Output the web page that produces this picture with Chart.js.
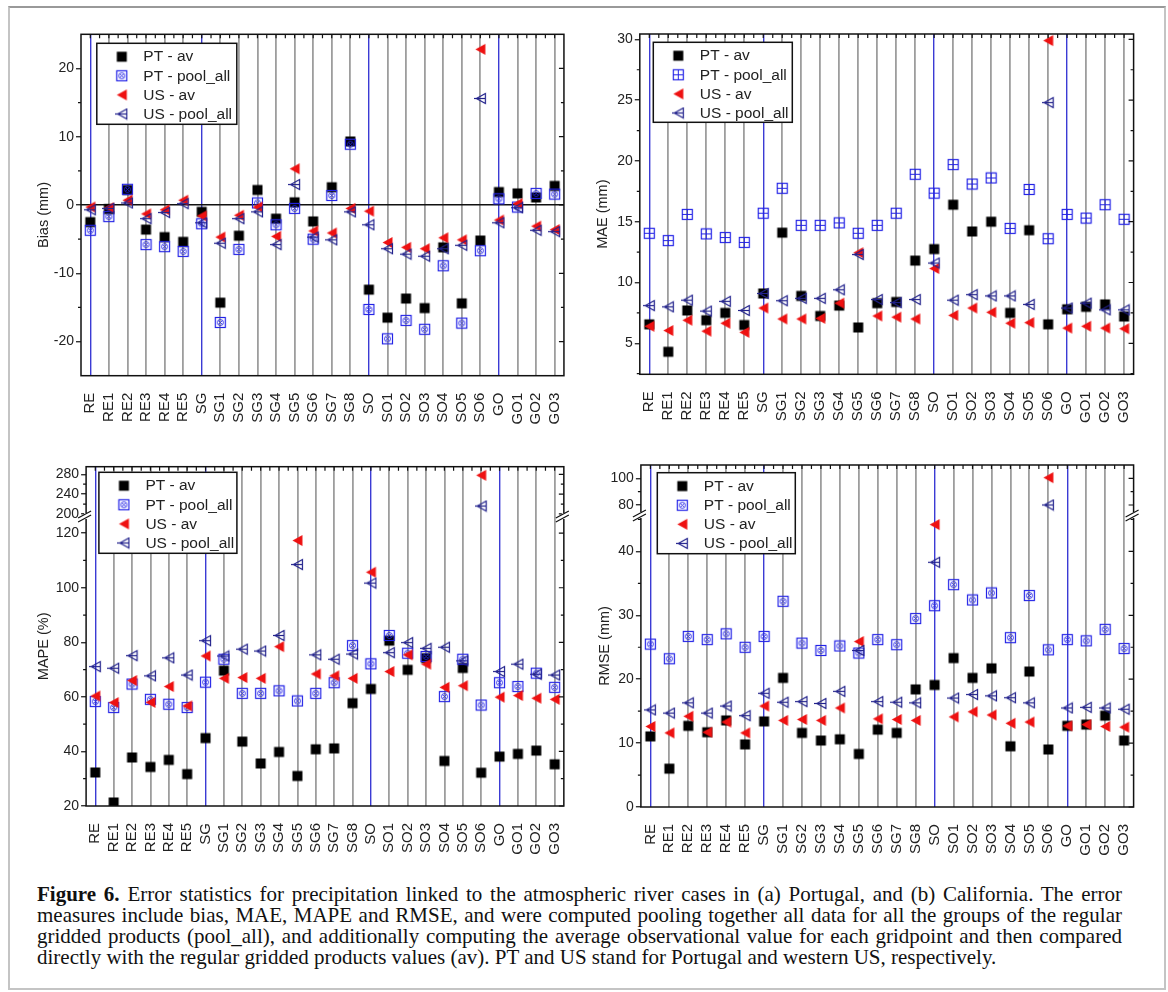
<!DOCTYPE html>
<html>
<head>
<meta charset="utf-8">
<title>Figure 6</title>
<script src="https://cdn.jsdelivr.net/npm/chart.js@4.4.1/dist/chart.umd.min.js"></script>
<style>
  html, body { margin: 0; padding: 0; background: #fff; }
  #fig { position: relative; width: 1168px; height: 992px; overflow: hidden; }
  .border { position: absolute; left: 8px; top: 6px; width: 1154px; height: 980px;
            border: 2px solid #c4c4c4; border-top-color: #999; }
  canvas { position: absolute; }
  #caption { position: absolute; left: 37px; top: 884px; width: 1085px;
             font-family: "Liberation Serif", "Times New Roman", serif; font-size: 21px;
             line-height: 21.1px; color: #111; }
  #caption div { text-align: justify; text-align-last: justify; white-space: nowrap; }
  #caption div.last { text-align-last: left; }
</style>
</head>
<body>
<div id="fig">
  <div class="border"></div>
  <canvas id="c-bias" width="580" height="430" style="left:10px;top:20px"></canvas>
  <canvas id="c-mae" width="570" height="430" style="left:590px;top:20px"></canvas>
  <canvas id="c-mape" width="580" height="420" style="left:10px;top:450px"></canvas>
  <canvas id="c-rmse" width="570" height="420" style="left:590px;top:450px"></canvas>
  <div id="caption">
    <div><b>Figure 6.</b> Error statistics for precipitation linked to the atmospheric river cases in (a) Portugal, and (b) California. The error</div>
    <div>measures include bias, MAE, MAPE and RMSE, and were computed pooling together all data for all the groups of the regular</div>
    <div>gridded products (pool_all), and additionally computing the average observational value for each gridpoint and then compared</div>
    <div class="last">directly with the regular gridded products values (av). PT and US stand for Portugal and western US, respectively.</div>
  </div>
</div>
<script>
/* ---------- dados ---------- */
const groups = ["RE", "RE1", "RE2", "RE3", "RE4", "RE5", "SG", "SG1", "SG2", "SG3", "SG4", "SG5", "SG6",
  "SG7", "SG8", "SO", "SO1", "SO2", "SO3", "SO4", "SO5", "SO6", "GO", "GO1", "GO2", "GO3"];
const groupHeads = ["RE", "SG", "SO", "GO"];
const seriesNames = ["PT - av", "PT - pool_all", "US - av", "US - pool_all"];

const biasTicks = [-20, -10, 0, 10, 20];
const biasPtAv = [-2.5, -0.6, 2.2, -3.6, -4.7, -5.4, -1.0, -14.3, -4.5, 2.2, -2.0, 0.4, -2.4, 2.6, 9.3, -12.4, -16.5, -13.7, -15.1, -6.2, -14.4, -5.2, 1.9, 1.7, 1.1, 2.8];
const biasPtPool = [-3.7, -1.7, 2.3, -5.8, -6.1, -6.8, -2.75, -17.2, -6.5, 0.3, -2.9, -0.5, -5.0, 1.4, 8.9, -15.3, -19.6, -16.9, -18.2, -8.9, -17.3, -6.7, 0.9, -0.3, 1.7, 1.6];
const biasUsAv = [-0.3, -0.4, 0.7, -1.3, -0.7, 0.7, -1.6, -4.7, -1.5, -0.3, -4.6, 5.3, -3.8, -4.1, -0.5, -0.9, -5.5, -6.2, -6.4, -4.8, -5.1, 22.8, -2.2, 0.2, -3.1, -3.6];
const biasUsPool = [-0.7, -0.5, 0.3, -2.0, -1.1, 0.2, -2.6, -5.6, -2.0, -1.0, -5.8, 3.0, -4.7, -5.1, -1.0, -2.9, -6.4, -7.2, -7.5, -6.4, -5.9, 15.6, -2.6, -0.4, -3.7, -3.9];

const maeTicks = [5, 10, 15, 20, 25, 30];
const maePtAv = [6.56, 4.3, 7.7, 6.9, 7.5, 6.5, 9.1, 14.1, 8.9, 7.25, 8.1, 6.3, 8.3, 8.4, 11.8, 12.75, 16.4, 14.2, 15.0, 7.5, 14.3, 6.56, 7.8, 8.0, 8.2, 7.2];
const maePtPool = [14.05, 13.45, 15.6, 14.0, 13.7, 13.3, 15.7, 17.75, 14.7, 14.7, 14.9, 14.05, 14.7, 15.7, 18.9, 17.35, 19.7, 18.1, 18.6, 14.45, 17.65, 13.6, 15.6, 15.3, 16.4, 15.2];
const maeUsAv = [6.4, 6.05, 6.9, 6.0, 6.65, 5.9, 7.9, 7.0, 7.0, 7.05, 8.3, 12.45, 7.25, 7.15, 7.0, 11.15, 7.3, 7.9, 7.55, 6.65, 6.7, 29.9, 6.25, 6.4, 6.25, 6.2];
const maeUsPool = [8.1, 8.0, 8.55, 7.65, 8.45, 7.7, 9.1, 8.5, 8.7, 8.7, 9.4, 12.3, 8.6, 8.35, 8.6, 11.6, 8.55, 9.0, 8.9, 8.9, 8.2, 24.8, 7.9, 8.3, 7.75, 7.75];

const mapeTicksLow = [20, 40, 60, 80, 100, 120];
const mapeTicksHigh = [200, 240, 280];
const mapePtAv = [32.3, 21.3, 37.8, 34.3, 36.9, 31.7, 44.9, 69.6, 43.6, 35.6, 39.8, 31.0, 40.8, 41.1, 57.7, 62.9, 80.6, 69.9, 74.2, 36.5, 70.6, 32.2, 38.1, 39.1, 40.3, 35.3];
const mapePtPool = [58.3, 56.1, 64.7, 59.1, 57.3, 56.1, 65.4, 73.8, 61.3, 61.3, 62.2, 58.5, 61.3, 65.2, 78.8, 72.1, 82.5, 76.0, 74.8, 60.1, 73.8, 57.0, 65.2, 63.8, 68.7, 63.5];
const mapeUsAv = [60.3, 57.9, 66.0, 58.0, 63.8, 56.7, 75.0, 66.8, 67.1, 66.8, 78.4, 117.3, 68.4, 67.7, 66.8, 105.7, 69.3, 75.4, 72.0, 63.5, 64.1, 278, 59.9, 60.5, 59.5, 59.1];
const mapeUsPool = [71.1, 70.5, 75.1, 67.7, 74.3, 68.0, 80.6, 75.0, 77.5, 76.8, 82.5, 108.5, 75.4, 73.8, 75.7, 101.7, 76.2, 79.9, 77.8, 78.2, 73.2, 216, 69.3, 72.0, 68.3, 68.0];

const rmseTicksLow = [0, 10, 20, 30, 40];
const rmseTicksHigh = [80, 100];
const rmsePtAv = [11.05, 6.0, 12.7, 11.7, 13.55, 9.8, 13.4, 20.2, 11.6, 10.4, 10.6, 8.3, 12.1, 11.6, 18.4, 19.1, 23.3, 20.2, 21.7, 9.5, 21.2, 9.0, 12.7, 12.9, 14.3, 10.4];
const rmsePtPool = [25.5, 23.2, 26.7, 26.2, 27.1, 25.0, 26.7, 32.2, 25.65, 24.5, 25.2, 24.1, 26.2, 25.4, 29.5, 31.5, 34.8, 32.4, 33.5, 26.5, 33.1, 24.6, 26.2, 26.0, 27.8, 24.8];
const rmseUsAv = [12.6, 11.6, 14.2, 11.7, 13.3, 11.6, 15.8, 13.55, 13.7, 13.55, 15.5, 25.9, 13.8, 13.7, 13.55, 44.2, 14.1, 14.9, 14.4, 13.1, 13.3, 100.5, 12.7, 12.9, 12.6, 12.5];
const rmseUsPool = [15.2, 14.7, 16.3, 14.7, 15.8, 14.3, 17.8, 16.4, 16.5, 16.2, 18.1, 24.5, 16.5, 16.4, 16.3, 38.3, 17.05, 17.6, 17.4, 17.1, 16.3, 80, 15.5, 15.6, 15.5, 15.3];

/* ---------- estilo ---------- */
const FONT = '"Liberation Sans", Arial, sans-serif';
const TEXT = "#222";

/** Desenha os marcadores (estilo Origin) num canvas pequeno, usado como pointStyle. */
function makeMarker(kind, color) {
  const c = document.createElement("canvas");
  c.width = 13;
  c.height = 13;
  const g = c.getContext("2d");
  g.fillStyle = color;
  g.strokeStyle = color;
  g.lineWidth = 1.2;
  if (kind === "square") {
    g.fillRect(1.5, 1.5, 10, 10);
  } else if (kind === "squareCircleX") {
    g.strokeRect(1.5, 1.5, 10, 10);
    g.lineWidth = 0.9;
    g.beginPath();
    g.arc(6.5, 6.5, 3, 0, Math.PI * 2);
    g.stroke();
    g.beginPath();
    g.moveTo(4.7, 4.7); g.lineTo(8.3, 8.3);
    g.moveTo(8.3, 4.7); g.lineTo(4.7, 8.3);
    g.stroke();
  } else if (kind === "squarePlus") {
    g.strokeRect(1.5, 1.5, 10, 10);
    g.lineWidth = 1;
    g.beginPath();
    g.moveTo(6.5, 1.5); g.lineTo(6.5, 11.5);
    g.moveTo(1.5, 6.5); g.lineTo(11.5, 6.5);
    g.stroke();
  } else if (kind === "triangle") {
    g.beginPath();
    g.moveTo(1.5, 6.5); g.lineTo(11.5, 1); g.lineTo(11.5, 12);
    g.closePath();
    g.fill();
  } else if (kind === "triangleOpen") {
    g.beginPath();
    g.moveTo(2.5, 6.5); g.lineTo(11.5, 1.5); g.lineTo(11.5, 11.5);
    g.closePath();
    g.stroke();
    g.beginPath();
    g.moveTo(0, 6.5); g.lineTo(11.5, 6.5);
    g.stroke();
  }
  return c;
}

const mkPtAv = makeMarker("square", "#000");
const mkPtPoolX = makeMarker("squareCircleX", "#2323e6");
const mkPtPoolPlus = makeMarker("squarePlus", "#2323e6");
const mkUsAv = makeMarker("triangle", "#ee1111");
const mkUsPool = makeMarker("triangleOpen", "#22228c");

/** Moldura, ticks espelhados/menores, quebra de eixo, título do eixo y e legenda interna. */
const panelDecor = {
  id: "panelDecor",
  afterDatasetsDraw(chart, args, o) {
    const { ctx, chartArea: a } = chart;
    ctx.save();
    ctx.strokeStyle = "#111";
    ctx.lineWidth = 1.5;
    ctx.strokeRect(a.left, a.top, a.right - a.left, a.bottom - a.top);

    ctx.lineWidth = 1.2;
    ctx.beginPath();
    Object.values(chart.scales).filter((s) => s.axis === "y").forEach((s) => {
      const vals = s.ticks.map((t) => t.value);
      const step = vals[1] - vals[0];
      vals.forEach((v) => {
        const y = s.getPixelForValue(v);
        ctx.moveTo(a.right, y); ctx.lineTo(a.right - 5, y);
      });
      for (let v = vals[0] - step / 2; v < s.max - 0.01; v += step) {
        if (v <= s.min) continue;
        const y = s.getPixelForValue(v);
        ctx.moveTo(a.left, y); ctx.lineTo(a.left - 3, y);
        ctx.moveTo(a.right, y); ctx.lineTo(a.right - 3, y);
      }
    });
    const x = chart.scales.x;
    const half = (x.getPixelForTick(1) - x.getPixelForTick(0)) / 2;
    for (let i = 0; i < groups.length; i++) {
      const px = x.getPixelForTick(i);
      ctx.moveTo(px, a.top); ctx.lineTo(px, a.top + 4);
      if (i < groups.length - 1) {
        ctx.moveTo(px + half, a.top); ctx.lineTo(px + half, a.top + 4);
      }
    }
    ctx.stroke();

    if (chart.scales.yHigh) {
      const yb = chart.scales.yHigh.bottom;
      [a.left, a.right].forEach((sx) => {
        ctx.fillStyle = "#fff";
        ctx.fillRect(sx - 2, yb - 3, 4, 6);
        ctx.beginPath();
        ctx.moveTo(sx - 8, yb + 2); ctx.lineTo(sx + 5, yb - 5);
        ctx.moveTo(sx - 8, yb + 6); ctx.lineTo(sx + 5, yb - 1);
        ctx.lineWidth = 1.2;
        ctx.strokeStyle = "#111";
        ctx.stroke();
      });
    }
    ctx.restore();
  },
  afterDraw(chart, args, o) {
    const { ctx, chartArea: a } = chart;
    ctx.save();
    ctx.fillStyle = TEXT;
    ctx.font = `14.5px ${FONT}`;
    ctx.textAlign = "center";
    ctx.textBaseline = "middle";
    ctx.translate(o.titleX, (a.top + a.bottom) / 2 + 10);
    ctx.rotate(-Math.PI / 2);
    ctx.fillText(o.title, 0, 0);
    ctx.restore();

    const L = o.legend;
    const lx = a.left + L.x;
    const ly = a.top + L.y;
    ctx.save();
    ctx.fillStyle = "#fff";
    ctx.fillRect(lx, ly, L.w, L.h);
    ctx.strokeStyle = "#111";
    ctx.lineWidth = 1.5;
    ctx.strokeRect(lx, ly, L.w, L.h);
    ctx.font = `15.5px ${FONT}`;
    ctx.textAlign = "left";
    ctx.textBaseline = "middle";
    chart.data.datasets.filter((d) => d.inLegend !== false).forEach((d, i) => {
      const cy = ly + 13.4 + i * 19.1;
      ctx.drawImage(d.pointStyle, lx + 25 - 6.5, cy - 6.5);
      ctx.fillStyle = TEXT;
      ctx.fillText(d.label, lx + 46.5, cy + 0.5);
    });
    ctx.restore();
  }
};

function yAxis(min, max, ticks, width, extra) {
  return Object.assign({
    type: "linear",
    position: "left",
    min: min,
    max: max,
    afterBuildTicks: (s) => { s.ticks = ticks.map((v) => ({ value: v })); },
    afterFit: (s) => { s.width = width; },
    border: { display: false },
    grid: {
      color: (c) => (extra && extra.zeroLine && c.tick && c.tick.value === 0 ? "#111" : "rgba(0,0,0,0)"),
      lineWidth: 1.5,
      drawTicks: true,
      tickLength: 5,
      tickColor: "#111",
      tickWidth: 1.2
    },
    ticks: { autoSkip: false, padding: 2, color: TEXT, font: { family: FONT, size: 14 } }
  }, extra && extra.stack ? { stack: extra.stack, stackWeight: extra.stackWeight } : {});
}

/** Cria um painel. `p.cut` separa os valores do segmento superior (eixo quebrado). */
function makePanel(p) {
  const datasets = [];
  p.series.forEach((data, i) => {
    const base = { label: seriesNames[i], pointStyle: p.markers[i], showLine: false, order: 4 - i };
    if (p.cut == null) {
      datasets.push(Object.assign({}, base, { data: data, yAxisID: "y" }));
    } else {
      datasets.push(Object.assign({}, base, { data: data.map((v) => (v <= p.cut ? v : null)), yAxisID: "y" }));
      datasets.push(Object.assign({}, base, { data: data.map((v) => (v > p.cut ? v : null)), yAxisID: "yHigh", inLegend: false }));
    }
  });

  const scales = {
    x: {
      type: "category",
      offset: true,
      afterFit: (s) => { s.height = p.xH; },
      border: { display: false },
      grid: {
        offset: false,
        drawTicks: false,
        color: (c) => (groupHeads.includes(groups[c.index]) ? "#3b3bd4" : "#9d9d9d"),
        lineWidth: (c) => (groupHeads.includes(groups[c.index]) ? 1.4 : 1.8)
      },
      ticks: { autoSkip: false, minRotation: 90, maxRotation: 90, padding: 17, color: TEXT, font: { family: FONT, size: 15 } }
    }
  };
  if (p.high) {
    scales.y = yAxis(p.low[0], p.low[1], p.lowTicks, p.yW, { stack: "s", stackWeight: p.weights[0] });
    scales.yHigh = yAxis(p.high[0], p.high[1], p.highTicks, p.yW, { stack: "s", stackWeight: p.weights[1] });
  } else {
    scales.y = yAxis(p.low[0], p.low[1], p.lowTicks, p.yW, { zeroLine: p.zeroLine });
  }

  return new Chart(document.getElementById(p.id).getContext("2d"), {
    type: "line",
    data: { labels: groups, datasets: datasets },
    options: {
      responsive: false,
      animation: false,
      events: [],
      layout: { autoPadding: false, padding: { left: 0, top: p.padT, right: p.padR, bottom: 0 } },
      scales: scales,
      plugins: {
        legend: { display: false },
        tooltip: { enabled: false },
        panelDecor: { title: p.title, titleX: p.titleX, legend: p.legend }
      }
    },
    plugins: [panelDecor]
  });
}

makePanel({
  id: "c-bias", title: "Bias (mm)", titleX: 34.3, yW: 71, padT: 14.3, padR: 18, xH: 74.3,
  series: [biasPtAv, biasPtPool, biasUsAv, biasUsPool],
  markers: [mkPtAv, mkPtPoolX, mkUsAv, mkUsPool],
  low: [-25, 25], lowTicks: biasTicks, zeroLine: true,
  legend: { x: 15.8, y: 9, w: 140, h: 81 }
});

makePanel({
  id: "c-mae", title: "MAE (mm)", titleX: 12.7, yW: 49.8, padT: 14, padR: 26.4, xH: 75.7,
  series: [maePtAv, maePtPool, maeUsAv, maeUsPool],
  markers: [mkPtAv, mkPtPoolPlus, mkUsAv, mkUsPool],
  low: [2.45, 30.44], lowTicks: maeTicks,
  legend: { x: 13.5, y: 8.3, w: 139, h: 80 }
});

makePanel({
  id: "c-mape", title: "MAPE (%)", titleX: 34, yW: 76.1, padT: 16.7, padR: 18, xH: 64,
  series: [mapePtAv, mapePtPool, mapeUsAv, mapeUsPool],
  markers: [mkPtAv, mkPtPoolX, mkUsAv, mkUsPool],
  cut: 150, low: [20, 126.3], lowTicks: mapeTicksLow, high: [195.9, 295.3], highTicks: mapeTicksHigh,
  weights: [290, 49.3],
  legend: { x: 12.8, y: 5.6, w: 138, h: 81 }
});

makePanel({
  id: "c-rmse", title: "RMSE (mm)", titleX: 14.5, yW: 50.9, padT: 15, padR: 26.4, xH: 63,
  series: [rmsePtAv, rmsePtPool, rmseUsAv, rmseUsPool],
  markers: [mkPtAv, mkPtPoolX, mkUsAv, mkUsPool],
  cut: 60, low: [0, 45.7], lowTicks: rmseTicksLow, high: [72.5, 110], highTicks: rmseTicksHigh,
  weights: [292, 50],
  legend: { x: 16.4, y: 7.7, w: 138, h: 81 }
});
</script>
</body>
</html>
